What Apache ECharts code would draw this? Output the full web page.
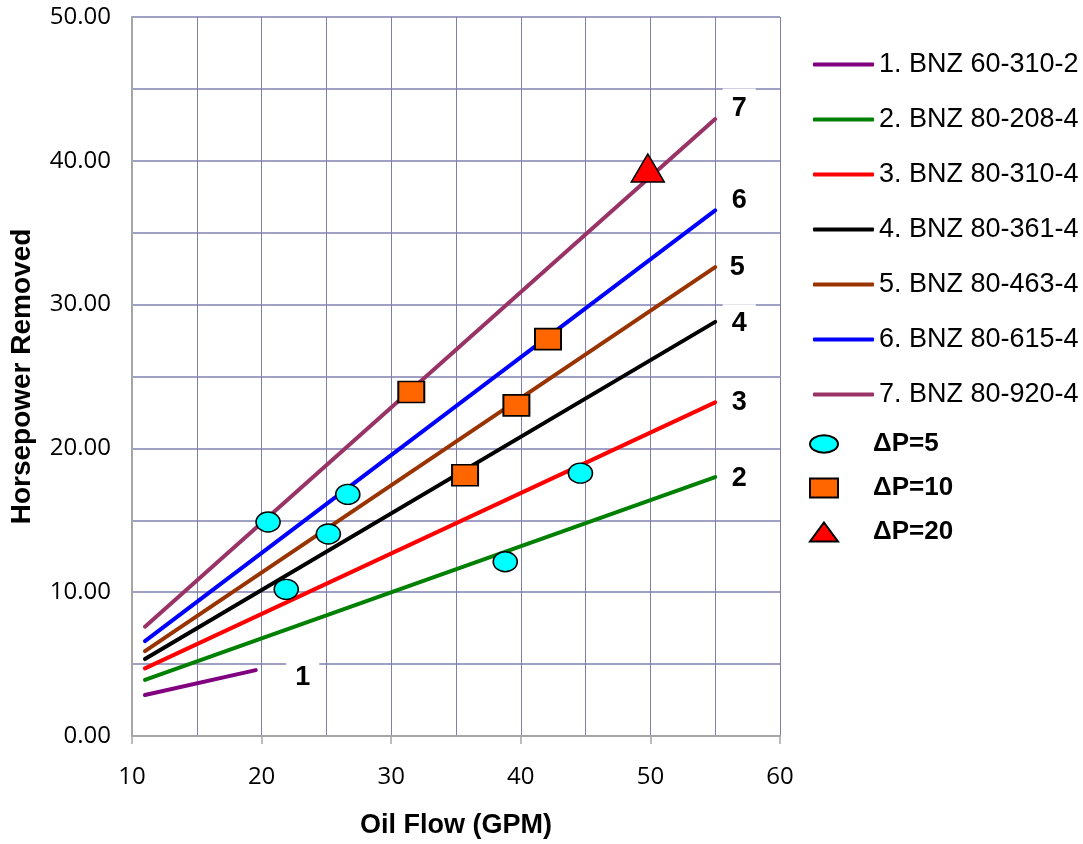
<!DOCTYPE html>
<html>
<head>
<meta charset="utf-8">
<script src="https://cdn.jsdelivr.net/npm/echarts@6/dist/echarts.min.js"></script>
<style>html,body{margin:0;padding:0;background:#fff}#c{width:1083px;height:844px}</style>
</head>
<body>
<div id="c"></div>
<script>
// ---- data ----
const lineNames = ['1. BNZ 60-310-2', '2. BNZ 80-208-4', '3. BNZ 80-310-4', '4. BNZ 80-361-4', '5. BNZ 80-463-4', '6. BNZ 80-615-4', '7. BNZ 80-920-4'];
const lineTags = ['1', '2', '3', '4', '5', '6', '7'];
const flowStart = [11, 11, 11, 11, 11, 11, 11];
const flowEnd = [19.55, 55, 55, 55, 55, 55, 55];
const hpStart = [2.85, 3.9, 4.7, 5.35, 5.9, 6.6, 7.6];
const hpEnd = [4.58, 18.0, 23.2, 28.8, 32.6, 36.55, 42.9];

const markerNames = ['ΔP=5', 'ΔP=10', 'ΔP=20'];
const dp5Flow = [20.5, 21.9, 25.15, 26.65, 38.8, 44.6];
const dp5Hp = [14.88, 10.2, 14.05, 16.8, 12.12, 18.28];
const dp10Flow = [31.55, 35.7, 39.66, 42.1];
const dp10Hp = [23.92, 18.13, 22.99, 27.6];
const dp20Flow = [49.8];
const dp20Hp = [39.5];

const xTicks = [10, 20, 30, 40, 50, 60];
const yTicks = [0, 10, 20, 30, 40, 50];

// ---- styling ----
const lineColors = ['#800080', '#008000', '#ff0000', '#000000', '#993300', '#0000ff', '#993366'];
const tagNudge = [[30, 7], [7, 1], [7, 0], [7, 2], [5, 0], [7, -10], [7, -11]];
const ellipse = 'path://M0,7.5 A12,7.5 0 1,1 24,7.5 A12,7.5 0 1,1 0,7.5 Z';
const FONT = 'Liberation Sans, Arial, sans-serif';

function zip(a, b) { return a.map((v, i) => [v, b[i]]); }

const series = [];
lineNames.forEach((name, i) => {
  series.push({
    name: name,
    type: 'line',
    symbol: 'none',
    data: [[flowStart[i], hpStart[i]], [flowEnd[i], hpEnd[i]]],
    lineStyle: { color: lineColors[i], width: 4, cap: 'round' },
    itemStyle: { color: lineColors[i] },
    silent: true,
    z: 3
  });
});
series.push({
  name: 'tags',
  type: 'scatter',
  symbol: 'circle',
  symbolSize: 1,
  itemStyle: { color: 'rgba(0,0,0,0)', opacity: 1 },
  z: 4,
  silent: true,
  data: lineTags.map((t, i) => ({
    value: [flowEnd[i], hpEnd[i]],
    label: {
      show: true,
      position: 'right',
      distance: 0,
      offset: tagNudge[i],
      formatter: t,
      fontSize: 27,
      fontWeight: 'bold',
      fontFamily: FONT,
      color: '#000000',
      opacity: 1,
      backgroundColor: '#ffffff',
      padding: [8, 9, 4, 9]
    }
  }))
});
series.push({
  name: markerNames[0], type: 'scatter', symbol: ellipse, symbolSize: [24, 20],
  itemStyle: { color: '#00ffff', borderColor: '#000', borderWidth: 1.5, opacity: 1 },
  data: zip(dp5Flow, dp5Hp), z: 5
});
series.push({
  name: markerNames[1], type: 'scatter', symbol: 'rect', symbolSize: [26, 21],
  itemStyle: { color: '#ff6600', borderColor: '#000', borderWidth: 1.8, opacity: 1 },
  data: zip(dp10Flow, dp10Hp), z: 5
});
series.push({
  name: markerNames[2], type: 'scatter', symbol: 'triangle', symbolSize: [33, 28],
  itemStyle: { color: '#ff0000', borderColor: '#000', borderWidth: 1.5, opacity: 1 },
  data: zip(dp20Flow, dp20Hp), z: 5
});

const axisGray = '#a6a6a6';
const option = {
  animation: false,
  backgroundColor: '#ffffff',
  grid: { left: 131, right: 303, top: 17, bottom: 107, containLabel: false },
  legend: [
    {
      data: lineNames.map(n => ({ name: n, icon: 'roundRect' })),
      orient: 'vertical',
      left: 808,
      top: 46,
      itemWidth: 61,
      itemHeight: 4,
      itemGap: 28,
      selectedMode: false,
      textStyle: { fontSize: 27, color: '#000', fontFamily: FONT }
    },
    {
      data: markerNames,
      orient: 'vertical',
      left: 804,
      top: 426,
      itemWidth: 28,
      itemHeight: 19,
      itemGap: 18,
      selectedMode: false,
      itemStyle: { opacity: 1 },
      textStyle: { fontSize: 26, fontWeight: 'bold', color: '#000', fontFamily: FONT, padding: [0, 0, 0, 30] }
    }
  ],
  xAxis: {
    type: 'value',
    min: xTicks[0],
    max: xTicks[xTicks.length - 1],
    interval: xTicks[1] - xTicks[0],
    name: 'Oil Flow (GPM)',
    nameLocation: 'middle',
    nameGap: 76,
    nameTextStyle: { fontSize: 27, fontWeight: 'bold', color: '#000', fontFamily: FONT },
    axisLine: { show: true, onZero: false, lineStyle: { color: axisGray, width: 2 } },
    axisTick: { show: true, length: 8, lineStyle: { color: axisGray, width: 1.5 } },
    axisLabel: { margin: 29, fontSize: 24, color: '#000', fontFamily: 'Open Sans, sans-serif' },
    splitLine: { show: true, lineStyle: { color: '#7f7fab', width: 1 } },
    minorTick: { show: false, splitNumber: 2 },
    minorSplitLine: { show: true, lineStyle: { color: '#7f7fab', width: 1 } }
  },
  yAxis: {
    type: 'value',
    min: yTicks[0],
    max: yTicks[yTicks.length - 1],
    interval: yTicks[1] - yTicks[0],
    name: 'Horsepower Removed',
    nameLocation: 'middle',
    nameGap: 96,
    nameTextStyle: { fontSize: 28, fontWeight: 'bold', color: '#000', fontFamily: FONT },
    axisLine: { show: true, lineStyle: { color: axisGray, width: 2 } },
    axisTick: { show: false },
    axisLabel: { margin: 21, fontSize: 24, color: '#000', fontFamily: 'Open Sans, sans-serif', formatter: v => v.toFixed(2) },
    splitLine: { show: true, lineStyle: { color: '#a0a0c4', width: 2 } },
    minorTick: { show: false, splitNumber: 2 },
    minorSplitLine: { show: true, lineStyle: { color: '#a0a0c4', width: 2 } }
  },
  series: series
};

const chart = echarts.init(document.getElementById('c'), null, { renderer: 'canvas' });
chart.setOption(option);
</script>
</body>
</html>
